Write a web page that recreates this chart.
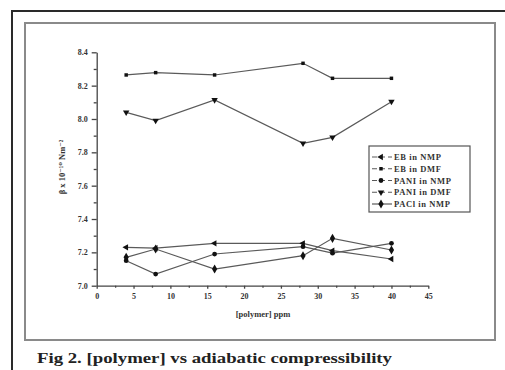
<!DOCTYPE html>
<html>
<head>
<meta charset="utf-8">
<script src="https://cdn.jsdelivr.net/npm/d3@7"></script>
<style>
  body { margin: 0; background: #fff; }
  svg { display: block; }
  text { font-family: "Liberation Serif", "DejaVu Serif", serif; }
</style>
</head>
<body>
<svg id="chart" width="505" height="370"></svg>
<script>
// concentration of polymer (ppm)
let conc = [4, 8, 16, 28, 32, 40];

let ebNmp   = [7.23, 7.225, 7.254, 7.254, 7.21, 7.16];
let ebDmf   = [8.264, 8.278, 8.264, 8.334, 8.244, 8.244];
let paniNmp = [7.15, 7.07, 7.19, 7.234, 7.195, 7.254];
let paniDmf = [8.04, 7.99, 8.114, 7.854, 7.89, 8.104];
let paclNmp = [7.17, 7.22, 7.10, 7.18, 7.284, 7.214];

let seriesNames = ['EB  in NMP', 'EB  in DMF', 'PANI in NMP', 'PANI in DMF', 'PACl in NMP'];
let xTicks = [0, 5, 10, 15, 20, 25, 30, 35, 40, 45];
let yTicks = [7.0, 7.2, 7.4, 7.6, 7.8, 8.0, 8.2, 8.4];

let d3v = d3;
let svg = d3v.select('#chart');

// page frame
svg.append('path')
  .attr('d', 'M12,370 V11 H505')
  .attr('fill', 'none')
  .attr('stroke', '#2a2a2a')
  .attr('stroke-width', 2);
svg.append('rect')
  .attr('x', 25).attr('y', 23)
  .attr('width', 470).attr('height', 317)
  .attr('fill', '#fff')
  .attr('stroke', '#8a8a8a')
  .attr('stroke-width', 2);

let x = d3v.scaleLinear().domain([0, 45]).range([96.7, 428.3]);
let y = d3v.scaleLinear().domain([7.0, 8.4]).range([285.7, 52.3]);

// minor ticks
let xMinor = xTicks.slice(0, -1).map(v => v + 2.5);
let yMinor = yTicks.slice(0, -1).map(v => v + 0.1);

svg.append('g')
  .attr('transform', 'translate(0,' + y(7.0) + ')')
  .call(d3v.axisBottom(x).tickValues(xMinor).tickSize(2).tickFormat(''))
  .call(g => g.select('.domain').remove());
svg.append('g')
  .attr('transform', 'translate(' + x(0) + ',0)')
  .call(d3v.axisLeft(y).tickValues(yMinor).tickSize(3).tickFormat(''))
  .call(g => g.select('.domain').remove());

svg.append('g')
  .attr('transform', 'translate(0,' + y(7.0) + ')')
  .call(d3v.axisBottom(x).tickValues(xTicks).tickSize(3).tickSizeOuter(0).tickPadding(5));
svg.append('g')
  .attr('transform', 'translate(' + x(0) + ',0)')
  .call(d3v.axisLeft(y).tickValues(yTicks).tickSize(5).tickSizeOuter(0).tickPadding(4)
    .tickFormat(d3v.format('.1f')));

svg.selectAll('.domain, .tick line').attr('stroke', '#444').attr('stroke-width', 1.3);
svg.selectAll('.tick text')
  .attr('fill', '#333')
  .style('font-size', '8px')
  .style('font-weight', 'bold');

// axis titles
svg.append('text')
  .attr('x', 263).attr('y', 317)
  .attr('text-anchor', 'middle')
  .style('font-size', '8.5px')
  .style('font-weight', 'bold')
  .attr('fill', '#333')
  .text('[polymer] ppm');

svg.append('text')
  .attr('transform', 'translate(65,167) rotate(-90)')
  .attr('text-anchor', 'middle')
  .style('font-size', '8.5px')
  .style('font-weight', 'bold')
  .attr('fill', '#333')
  .text('β x 10⁻¹⁰ Nm⁻²');

// series
let symbols = [
  { type: d3v.symbolTriangle, rot: -90, size: 18 },
  { type: d3v.symbolSquare, rot: 0, size: 12 },
  { type: d3v.symbolCircle, rot: 0, size: 18 },
  { type: d3v.symbolTriangle, rot: 180, size: 18 },
  { type: d3v.symbolDiamond, rot: 0, size: 24 }
];
let allSeries = [ebNmp, ebDmf, paniNmp, paniDmf, paclNmp];

let line = d3v.line()
  .x((d, i) => x(conc[i]))
  .y(d => y(d));

allSeries.forEach((vals, s) => {
  svg.append('path')
    .attr('d', line(vals))
    .attr('fill', 'none')
    .attr('stroke', '#5a5a5a')
    .attr('stroke-width', 1.2);
  svg.selectAll('.m' + s)
    .data(vals)
    .enter()
      .append('path')
        .attr('class', 'm' + s)
        .attr('transform', (d, i) => 'translate(' + x(conc[i]) + ',' + y(d) + ') rotate(' + symbols[s].rot + ')')
        .attr('d', d3v.symbol().type(symbols[s].type).size(symbols[s].size))
        .attr('fill', '#111');
});

// legend
let legend = svg.append('g');
legend.append('rect')
  .attr('x', 369).attr('y', 146)
  .attr('width', 101).attr('height', 66)
  .attr('fill', '#fff')
  .attr('stroke', '#555')
  .attr('stroke-width', 1.2);

let ly = d3v.scalePoint().domain(seriesNames).range([157, 204]);
seriesNames.forEach((name, s) => {
  let g = legend.append('g').attr('transform', 'translate(0,' + ly(name) + ')');
  g.append('line')
    .attr('x1', 372).attr('x2', 392)
    .attr('stroke', '#5a5a5a')
    .attr('stroke-width', 1.2)
    .attr('stroke-dasharray', s === 4 ? null : '5,3');
  g.append('path')
    .attr('transform', 'translate(381,0) rotate(' + symbols[s].rot + ')')
    .attr('d', d3v.symbol().type(symbols[s].type).size(symbols[s].size))
    .attr('fill', '#111');
  g.append('text')
    .attr('x', 394).attr('y', 3)
    .style('font-size', '8.5px')
    .style('font-weight', 'bold')
    .style('letter-spacing', '0.6px')
    .attr('fill', '#333')
    .text(name);
});

// caption
svg.append('text')
  .attr('x', 37).attr('y', 363)
  .attr('textLength', 355)
  .attr('lengthAdjust', 'spacingAndGlyphs')
  .style('font-size', '15px')
  .style('font-weight', 'bold')
  .attr('fill', '#222')
  .text('Fig 2. [polymer] vs adiabatic compressibility');
</script>
</body>
</html>
